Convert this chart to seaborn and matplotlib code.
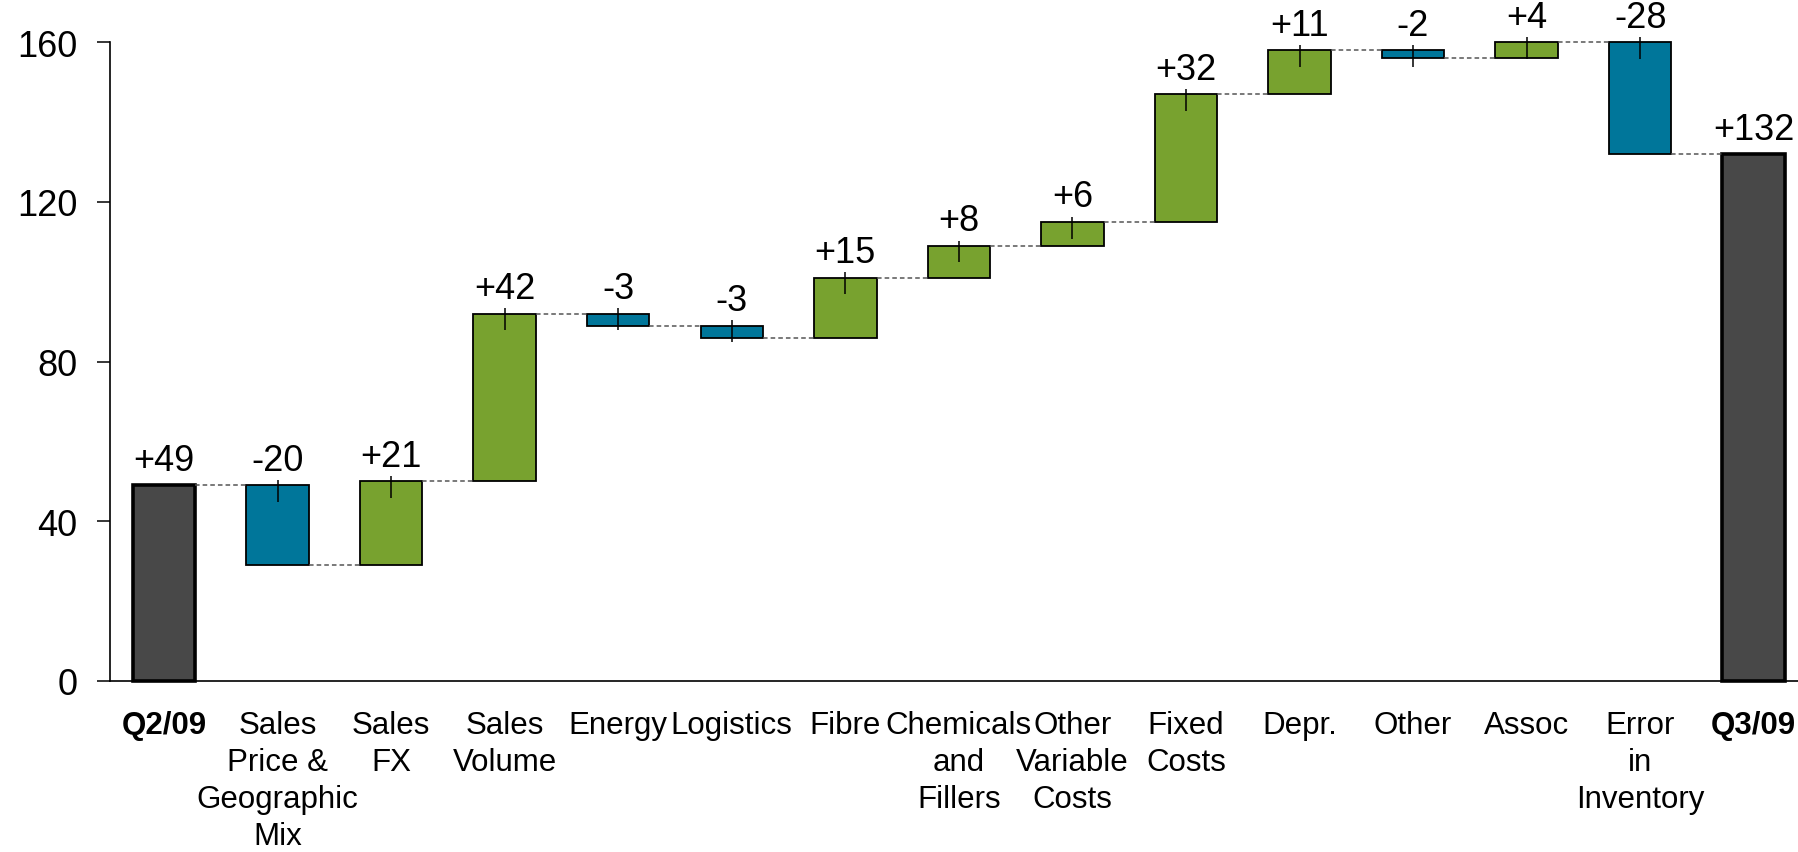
import numpy as np
import pandas as pd
import matplotlib
matplotlib.use("Agg")
import matplotlib.pyplot as plt
import seaborn as sns

# 数据
start_label = "Q2/09"
end_label = "Q3/09"
start_value = 49
step_labels = ["Sales\nPrice &\nGeographic\nMix", "Sales\nFX", "Sales\nVolume", "Energy",
               "Logistics", "Fibre", "Chemicals\nand\nFillers", "Other\nVariable\nCosts",
               "Fixed\nCosts", "Depr.", "Other", "Assoc", "Error\nin\nInventory"]
step_values = [-20, 21, 42, -3, -3, 15, 8, 6, 32, 11, -2, 4, -28]
end_value = 132

# 颜色
c_total = "#484848"
c_up = "#78A22F"
c_down = "#00769A"

# 瀑布图的底部和高度
levels = np.cumsum([start_value] + step_values)
cats = [start_label] + step_labels + [end_label]
bottoms = [0] + [min(levels[i], levels[i + 1]) for i in range(len(step_values))] + [0]
heights = [start_value] + [abs(v) for v in step_values] + [end_value]
tops = [b + h for b, h in zip(bottoms, heights)]
df = pd.DataFrame({"cat": cats, "height": heights, "bottom": bottoms})

sns.set_style("white")
plt.rcParams["font.family"] = ["Liberation Sans", "DejaVu Sans"]
plt.rcParams["text.color"] = "black"
plt.rcParams["xtick.color"] = "black"
plt.rcParams["ytick.color"] = "black"

fig = plt.figure(figsize=(17.98, 8.53), dpi=100)
ax = fig.add_axes([0.0612, 0.2005, 0.9388, 0.749])

sns.barplot(data=df, x="cat", y="height", order=cats, bottom=df["bottom"].values,
            width=0.55, errorbar=None, color=c_up, ax=ax)

n = len(cats)
for i, p in enumerate(ax.patches[:n]):
    p.set_clip_on(False)
    p.set_edgecolor("black")
    if i == 0 or i == n - 1:
        p.set_facecolor(c_total)
        p.set_linewidth(2.6)
    else:
        p.set_facecolor(c_up if step_values[i - 1] > 0 else c_down)
        p.set_linewidth(1.3)

# 连接虚线
half = 0.55 / 2
conn_levels = list(levels) + [end_value]
for i in range(n - 1):
    ax.hlines(conn_levels[i], i + half, i + 1 - half, colors="#555555",
              linestyles=(0, (3, 2)), linewidth=1.1, zorder=1, clip_on=False)

# 小竖线
for i in range(1, n - 1):
    ax.vlines(i, tops[i] - 4.2, tops[i] + 1.3, colors="black", linewidth=1.1,
              zorder=5, clip_on=False)

# 数值标签
vals = [start_value] + step_values + [end_value]
for i, v in enumerate(vals):
    ax.annotate(f"{v:+d}", (i, tops[i]), xytext=(0, 11), textcoords="offset points",
                ha="center", va="baseline", fontsize=26, annotation_clip=False)

ax.set_xlim(-0.475, n - 1 + 0.39)
ax.set_ylim(0, 160)
ax.set_yticks([0, 40, 80, 120, 160])
ax.set_xlabel("")
ax.set_ylabel("")
ax.tick_params(axis="y", labelsize=26, length=9.5, width=1.1, direction="out", pad=14, left=True)
ax.tick_params(axis="x", labelsize=22.5, length=0, pad=21)
for lbl in ax.get_xticklabels():
    lbl.set_linespacing(1.3)
    if lbl.get_text() in (start_label, end_label):
        lbl.set_fontweight("bold")

sns.despine(ax=ax)
for s in ("left", "bottom"):
    ax.spines[s].set_color("black")
    ax.spines[s].set_linewidth(1.2)

fig.savefig("out.png", dpi=100)
